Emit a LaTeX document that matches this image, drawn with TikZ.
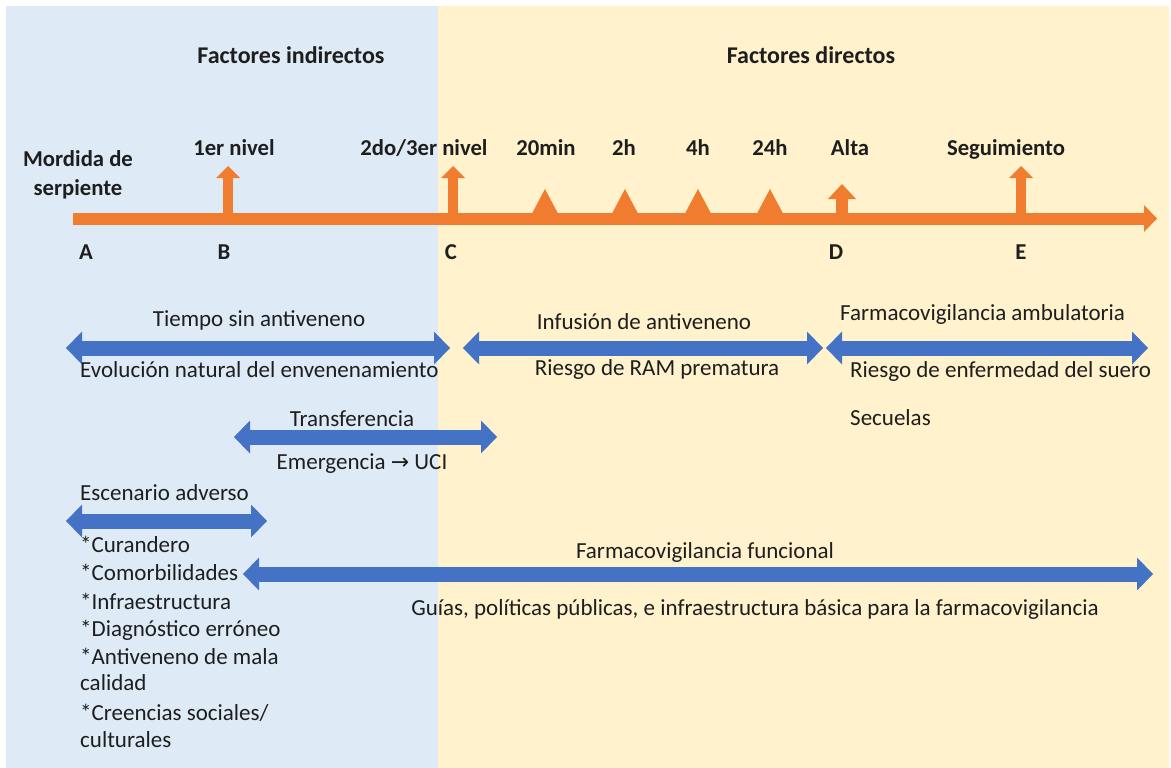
\documentclass[tikz,border=0pt]{standalone}
\usepackage{fontspec}
\setmainfont{Carlito}
\newfontfamily\symfont{DejaVu Sans}
\usetikzlibrary{arrows.meta}
\definecolor{bgblue}{HTML}{DEEBF7}
\definecolor{bgyellow}{HTML}{FFF2CC}
\definecolor{tlorange}{HTML}{F07C2F}
\definecolor{arblue}{HTML}{4472C4}
\definecolor{txt}{HTML}{1E1E1E}
\begin{document}
\begin{tikzpicture}[x=1pt,y=-1pt,
  txtstyle/.style={font=\fontsize{23}{27}\selectfont, text=txt, inner sep=0pt},
  lbl/.style={txtstyle, anchor=base},
  lblw/.style={txtstyle, anchor=base west},
  bld/.style={font=\fontsize{22.7}{27}\selectfont\bfseries},
  ttl/.style={font=\fontsize{24}{28}\selectfont\bfseries},
  dbl/.style={arblue, line width=15pt,
    {Triangle[length=16pt,width=33pt,line width=0pt]}-{Triangle[length=16pt,width=33pt,line width=0pt]}},
  upar/.style={tlorange, line width=10pt, -{Triangle[length=12pt,width=24pt,line width=0pt]}},
  tick/.style={fill=tlorange},
]
\useasboundingbox (0,0) rectangle (1171,768);
\fill[white] (0,0) rectangle (1171,768);
\fill[bgblue] (6,6) rectangle (438,768);
\fill[bgyellow] (438,6) rectangle (1169,768);

% titles
\node[lbl,ttl] (ti) at (291,64) {Factores indirectos};
\node[lbl,ttl] (td) at (811,64) {Factores directos};

% timeline
\coordinate (t0) at (73,218.5);
\coordinate (t1) at (1157,218.5);
\draw[tlorange, line width=12pt, -{Triangle[length=13pt,width=27pt,line width=0pt]}] (t0) -- (t1);

\coordinate (bB) at (228,218); \coordinate (uB) at (228,166);
\coordinate (bC) at (453,218); \coordinate (uC) at (453,166);
\coordinate (bE) at (1021,218); \coordinate (uE) at (1021,166);
\coordinate (bD) at (842,218); \coordinate (uD) at (842,184);
\draw[upar] (bB) -- (uB);
\draw[upar] (bC) -- (uC);
\draw[upar] (bE) -- (uE);
\draw[tlorange, line width=12pt, -{Triangle[length=15pt,width=28pt,line width=0pt]}] (bD) -- (uD);

\foreach \cx in {545,625,698,770}{
  \fill[tick] (\cx-13,213.5) -- (\cx+13,213.5) -- (\cx,189) -- cycle;
}

% timeline labels
\node[lbl,bld] (mord1) at (78,166) {Mordida de};
\node[lbl,bld] (mord2) at (78,195) {serpiente};
\node[lbl,bld] (l1) at (234,155) {1er nivel};
\node[lbl,bld] (l2) at (424,155) {2do/3er nivel};
\node[lbl,bld] (l3) at (546,155) {20min};
\node[lbl,bld] (l4) at (624,155) {2h};
\node[lbl,bld] (l5) at (698,155) {4h};
\node[lbl,bld] (l6) at (770,155) {24h};
\node[lbl,bld] (l7) at (850,155) {Alta};
\node[lbl,bld] (l8) at (1006,155) {Seguimiento};
\node[lbl,bld] (pA) at (86,259) {A};
\node[lbl,bld] (pB) at (224,259) {B};
\node[lbl,bld] (pC) at (451,259) {C};
\node[lbl,bld] (pD) at (836,259) {D};
\node[lbl,bld] (pE) at (1021,259) {E};

% blue double arrows
\coordinate (a1l) at (66,348);  \coordinate (a1r) at (450,348);
\coordinate (a2l) at (463,348); \coordinate (a2r) at (823,348);
\coordinate (a3l) at (826,348); \coordinate (a3r) at (1148,348);
\coordinate (a4l) at (234,437); \coordinate (a4r) at (497,437);
\coordinate (a5l) at (66,521);  \coordinate (a5r) at (267,521);
\coordinate (a6l) at (243,574); \coordinate (a6r) at (1153,574);
\draw[dbl] (a1l) -- (a1r);
\draw[dbl] (a2l) -- (a2r);
\draw[dbl] (a3l) -- (a3r);
\draw[dbl] (a4l) -- (a4r);
\draw[dbl] (a5l) -- (a5r);
\draw[dbl] (a6l) -- (a6r);

% arrow texts
\node[lbl] (x1) at (259,326) {Tiempo sin antiveneno};
\node[lblw] (x2) at (80,377) {Evolución natural del envenenamiento};
\node[lbl] (x3) at (644,329) {Infusión de antiveneno};
\node[lbl] (x4) at (657,375) {Riesgo de RAM prematura};
\node[lblw] (x5) at (840,320) {Farmacovigilancia ambulatoria};
\node[lblw] (x6) at (850,377) {Riesgo de enfermedad del suero};
\node[lblw] (x7) at (850,425) {Secuelas};
\node[lbl] (x8) at (352,426) {Transferencia};
\node[lbl] (x9) at (362,469) {Emergencia {\symfont\fontsize{22}{24}\selectfont →} UCI};
\node[lblw] (x10) at (80,500) {Escenario adverso};
\node[lbl] (x11) at (705,558) {Farmacovigilancia funcional};
\node[lbl] (x12) at (755,615) {Guías, políticas públicas, e infraestructura básica para la farmacovigilancia};

% list
\node[lblw] (c1) at (80,552) {*Curandero};
\node[lblw] (c2) at (80,580) {*Comorbilidades};
\node[lblw] (c3) at (80,609) {*Infraestructura};
\node[lblw] (c4) at (80,636) {*Diagnóstico erróneo};
\node[lblw] (c5) at (80,664) {*Antiveneno de mala};
\node[lblw] (c6) at (80,690) {calidad};
\node[lblw] (c7) at (80,720) {*Creencias sociales/};
\node[lblw] (c8) at (80,747) {culturales};
\end{tikzpicture}
\end{document}
